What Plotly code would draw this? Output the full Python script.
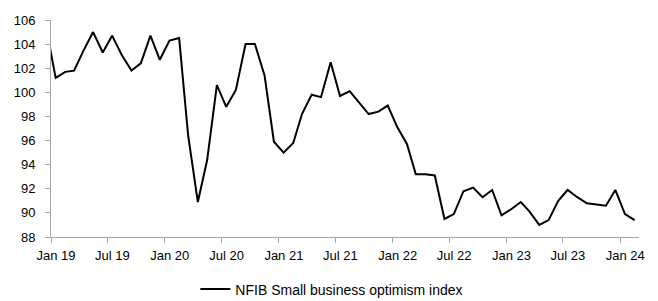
import pandas as pd
import plotly.graph_objects as go

# Monthly NFIB Small business optimism index (Dec 2018 - Feb 2024)
start_month = "2018-12"
values = [
    105.4,                                                                     # Dec 18
    101.2, 101.7, 101.8, 103.5, 105.0, 103.3, 104.7, 103.1, 101.8, 102.4, 104.7, 102.7,  # 2019
    104.3, 104.5, 96.4, 90.9, 94.4, 100.6, 98.8, 100.2, 104.0, 104.0, 101.4, 95.9,      # 2020
    95.0, 95.8, 98.2, 99.8, 99.6, 102.5, 99.7, 100.1, 99.1, 98.2, 98.4, 98.9,           # 2021
    97.1, 95.7, 93.2, 93.2, 93.1, 89.5, 89.9, 91.8, 92.1, 91.3, 91.9, 89.8,             # 2022
    90.3, 90.9, 90.1, 89.0, 89.4, 91.0, 91.9, 91.3, 90.8, 90.7, 90.6, 91.9,             # 2023
    89.9, 89.4,                                                                          # 2024
]
series_name = "NFIB Small business optimism index"

months = pd.period_range(start=start_month, periods=len(values), freq="M")
# points sit in the middle of each month slot
dates = [p.start_time + pd.Timedelta(days=15) for p in months]

FONT = "Liberation Sans, Arial, sans-serif"
AXIS_COLOR = "#a6a6a6"

fig = go.Figure()
fig.add_trace(go.Scatter(
    x=dates, y=values, mode="lines", name=series_name,
    line=dict(color="black", width=2),
))

# the page body adds an 8px offset, so the figure is 8px smaller
fig.update_layout(
    width=650, height=293,
    margin=dict(l=43, r=18.5, t=12.3, b=63.6, autoexpand=False),
    paper_bgcolor="white", plot_bgcolor="white",
    font=dict(family=FONT, size=13, color="black"),
    showlegend=True,
    legend=dict(
        orientation="h", x=0.2455, xanchor="left", y=-0.242, yanchor="middle",
        font=dict(family=FONT, size=14, color="black"),
        bgcolor="rgba(0,0,0,0)",
    ),
)
fig.update_xaxes(
    type="date", range=["2019-01-01", "2024-03-01"],
    tick0="2019-01-01", dtick="M6", tickformat="%b %y",
    showgrid=False, zeroline=False, automargin=False,
    showline=True, linecolor=AXIS_COLOR, linewidth=1,
    ticks="outside", ticklen=5, tickcolor=AXIS_COLOR, tickwidth=1,
    ticklabelshift=5, ticklabelstandoff=1,
)
fig.update_yaxes(
    range=[88, 106], dtick=2, tick0=88,
    showgrid=False, zeroline=False, automargin=False,
    showline=True, linecolor=AXIS_COLOR, linewidth=1,
    ticks="outside", ticklen=5, tickcolor=AXIS_COLOR, tickwidth=1,
    ticklabelstandoff=7,
)

fig.write_html("out.html")
